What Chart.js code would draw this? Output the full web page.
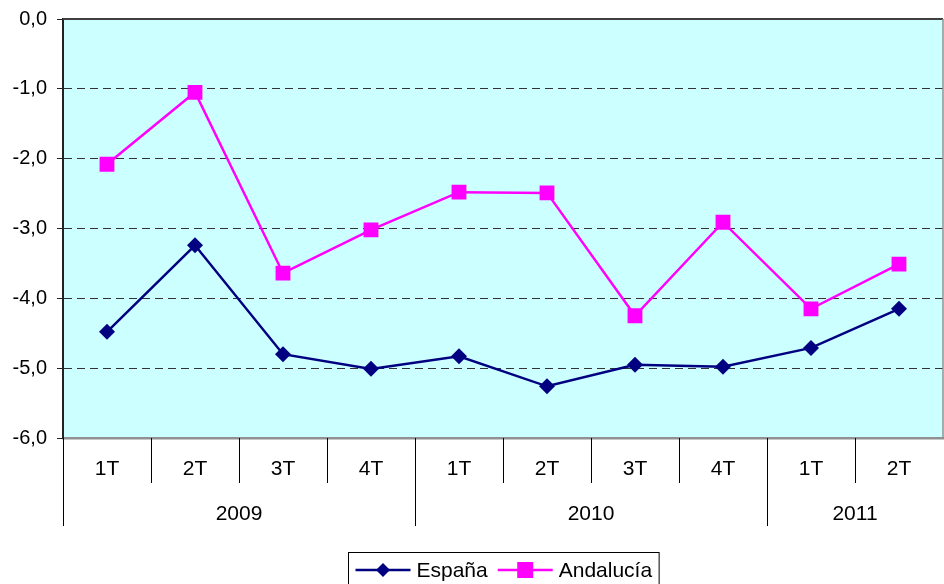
<!DOCTYPE html>
<html>
<head>
<meta charset="utf-8">
<script src="https://cdn.jsdelivr.net/npm/chart.js@4.4.1/dist/chart.umd.min.js"></script>
<style>
  html, body { margin: 0; padding: 0; background: #fff; }
  #wrap { width: 944px; height: 584px; }
</style>
</head>
<body>
<div id="wrap"><canvas id="grafico" width="944" height="584"></canvas></div>
<script>
// Datos del gráfico
const trimestres = ['1T', '2T', '3T', '4T', '1T', '2T', '3T', '4T', '1T', '2T'];
const anios = ['2009', '2010', '2011'];
const trimestresPorAnio = [4, 4, 2];
const espana = [-4.48, -3.24, -4.80, -5.01, -4.83, -5.26, -4.95, -4.98, -4.71, -4.15];
const andalucia = [-2.08, -1.05, -3.64, -3.02, -2.48, -2.49, -4.25, -2.91, -4.15, -3.51];
const yMin = -6, yMax = 0, yPaso = 1;

const FUENTE = '"Liberation Sans", Arial, sans-serif';

// Fondo y bordes del area de trazado
const fondoPlugin = {
    id: 'fondo',
    beforeDraw(chart) {
        const { ctx, chartArea: a } = chart;
        ctx.save();
        ctx.fillStyle = '#CCFFFF';
        ctx.fillRect(a.left, a.top, a.right - a.left, a.bottom - a.top);
        ctx.restore();
    },
    afterDatasetsDraw(chart) {
        const { ctx, chartArea: a } = chart;
        ctx.save();
        ctx.strokeStyle = '#404040';
        ctx.lineWidth = 2;
        ctx.beginPath();
        ctx.moveTo(a.left, a.top);
        ctx.lineTo(a.right, a.top);
        ctx.stroke();
        ctx.strokeStyle = '#909090';
        ctx.lineWidth = 1.5;
        ctx.beginPath();
        ctx.moveTo(a.right, a.top);
        ctx.lineTo(a.right, a.bottom);
        ctx.stroke();
        ctx.restore();
    }
};

// Separadores de trimestres y etiquetas de años
const ejeAniosPlugin = {
    id: 'ejeAnios',
    afterDraw(chart) {
        const { ctx, chartArea: a } = chart;
        const x = chart.scales.x;
        const ancho = x.getPixelForValue(1) - x.getPixelForValue(0);
        ctx.save();
        ctx.strokeStyle = '#000';
        ctx.lineWidth = 1;
        let inicio = 0;
        const limites = [];
        trimestresPorAnio.forEach(n => { limites.push(inicio); inicio += n; });
        for (let i = 0; i < trimestres.length; i++) {
            const px = Math.round(x.getPixelForValue(i) - ancho / 2) + 0.5;
            const largo = limites.includes(i) ? 88 : 45;
            ctx.beginPath();
            ctx.moveTo(px, a.bottom);
            ctx.lineTo(px, a.bottom + largo);
            ctx.stroke();
        }
        ctx.fillStyle = '#000';
        ctx.font = '21px ' + FUENTE;
        ctx.textAlign = 'center';
        ctx.textBaseline = 'middle';
        anios.forEach((anio, k) => {
            const desde = limites[k];
            const hasta = desde + trimestresPorAnio[k] - 1;
            const cx = (x.getPixelForValue(desde) + x.getPixelForValue(hasta)) / 2;
            ctx.fillText(anio, cx, a.bottom + 76);
        });
        ctx.restore();
    }
};

// Leyenda con recuadro, linea y marcador
const leyendaPlugin = {
    id: 'leyendaExcel',
    afterDraw(chart) {
        const { ctx, chartArea: a } = chart;
        ctx.save();
        ctx.font = '21px ' + FUENTE;
        const items = chart.data.datasets.map(ds => ({ ds, w: ctx.measureText(ds.label).width }));
        const linea = 55, sep = 6, entre = 10, pad = 7;
        let total = pad * 2;
        items.forEach((it, i) => { total += linea + sep + it.w + (i ? entre : 0); });
        const centro = (a.left + a.right) / 2;
        let x0 = Math.round(centro - total / 2) + 0.5;
        const top = 552.5, cy = 570;
        ctx.strokeStyle = '#000';
        ctx.lineWidth = 1;
        ctx.strokeRect(x0, top, total, 40);
        let x = x0 + pad;
        items.forEach((it, i) => {
            if (i) x += entre;
            const ds = it.ds;
            ctx.strokeStyle = ds.borderColor;
            ctx.lineWidth = 2.5;
            ctx.beginPath();
            ctx.moveTo(x, cy);
            ctx.lineTo(x + linea, cy);
            ctx.stroke();
            ctx.fillStyle = ds.backgroundColor;
            const mx = x + linea / 2;
            if (ds.pointStyle === 'rect') {
                ctx.fillRect(mx - 8, cy - 8, 16, 16);
            } else {
                ctx.beginPath();
                ctx.moveTo(mx - 7, cy);
                ctx.lineTo(mx, cy - 7);
                ctx.lineTo(mx + 7, cy);
                ctx.lineTo(mx, cy + 7);
                ctx.closePath();
                ctx.fill();
            }
            x += linea + sep;
            ctx.fillStyle = '#000';
            ctx.textAlign = 'left';
            ctx.textBaseline = 'middle';
            ctx.fillText(ds.label, x, cy + 1);
            x += it.w;
        });
        ctx.restore();
    }
};

const ctx = document.getElementById('grafico');

new Chart(ctx, {
    type: 'line',
    data: {
        labels: trimestres,
        datasets: [
            {
                label: 'España',
                data: espana,
                borderColor: '#000080',
                backgroundColor: '#000080',
                borderWidth: 2.5,
                pointStyle: 'rectRot',
                pointRadius: 8,
                pointBorderWidth: 0,
                tension: 0
            },
            {
                label: 'Andalucía',
                data: andalucia,
                borderColor: '#FF00FF',
                backgroundColor: '#FF00FF',
                borderWidth: 2.5,
                pointStyle: 'rect',
                pointRadius: 10.5,
                pointBorderWidth: 0,
                tension: 0
            }
        ]
    },
    options: {
        responsive: false,
        animation: false,
        devicePixelRatio: 1,
        layout: { autoPadding: false, padding: { top: 19, right: 1, left: 0, bottom: 0 } },
        plugins: {
            legend: { display: false },
            tooltip: { enabled: false }
        },
        scales: {
            x: {
                type: 'category',
                offset: true,
                grid: { display: false, drawTicks: false },
                border: { display: true, color: '#909090', width: 2.5 },
                ticks: {
                    color: '#000',
                    font: { family: FUENTE, size: 21 },
                    padding: 19,
                    maxRotation: 0,
                    autoSkip: false
                },
                afterFit(scale) {
                    scale.height = 146;
                    scale.paddingLeft = 0;
                    scale.paddingRight = 0;
                }
            },
            y: {
                min: yMin,
                max: yMax,
                border: { display: true, color: '#222', width: 2, dash: [8, 5] },
                grid: {
                    color: c => (c.tick.value === yMin || c.tick.value === yMax) ? 'rgba(0,0,0,0)' : '#333',
                    tickColor: '#222',
                    tickBorderDash: [],
                    lineWidth: 1,
                    drawTicks: true,
                    tickLength: 6
                },
                ticks: {
                    stepSize: yPaso,
                    color: '#000',
                    font: { family: FUENTE, size: 20 },
                    padding: 10,
                    callback: v => v.toFixed(1).replace('.', ',')
                },
                afterFit(scale) {
                    scale.width = 63;
                    scale.paddingTop = 0;
                    scale.paddingBottom = 0;
                }
            }
        }
    },
    plugins: [fondoPlugin, ejeAniosPlugin, leyendaPlugin]
});
</script>
</body>
</html>
